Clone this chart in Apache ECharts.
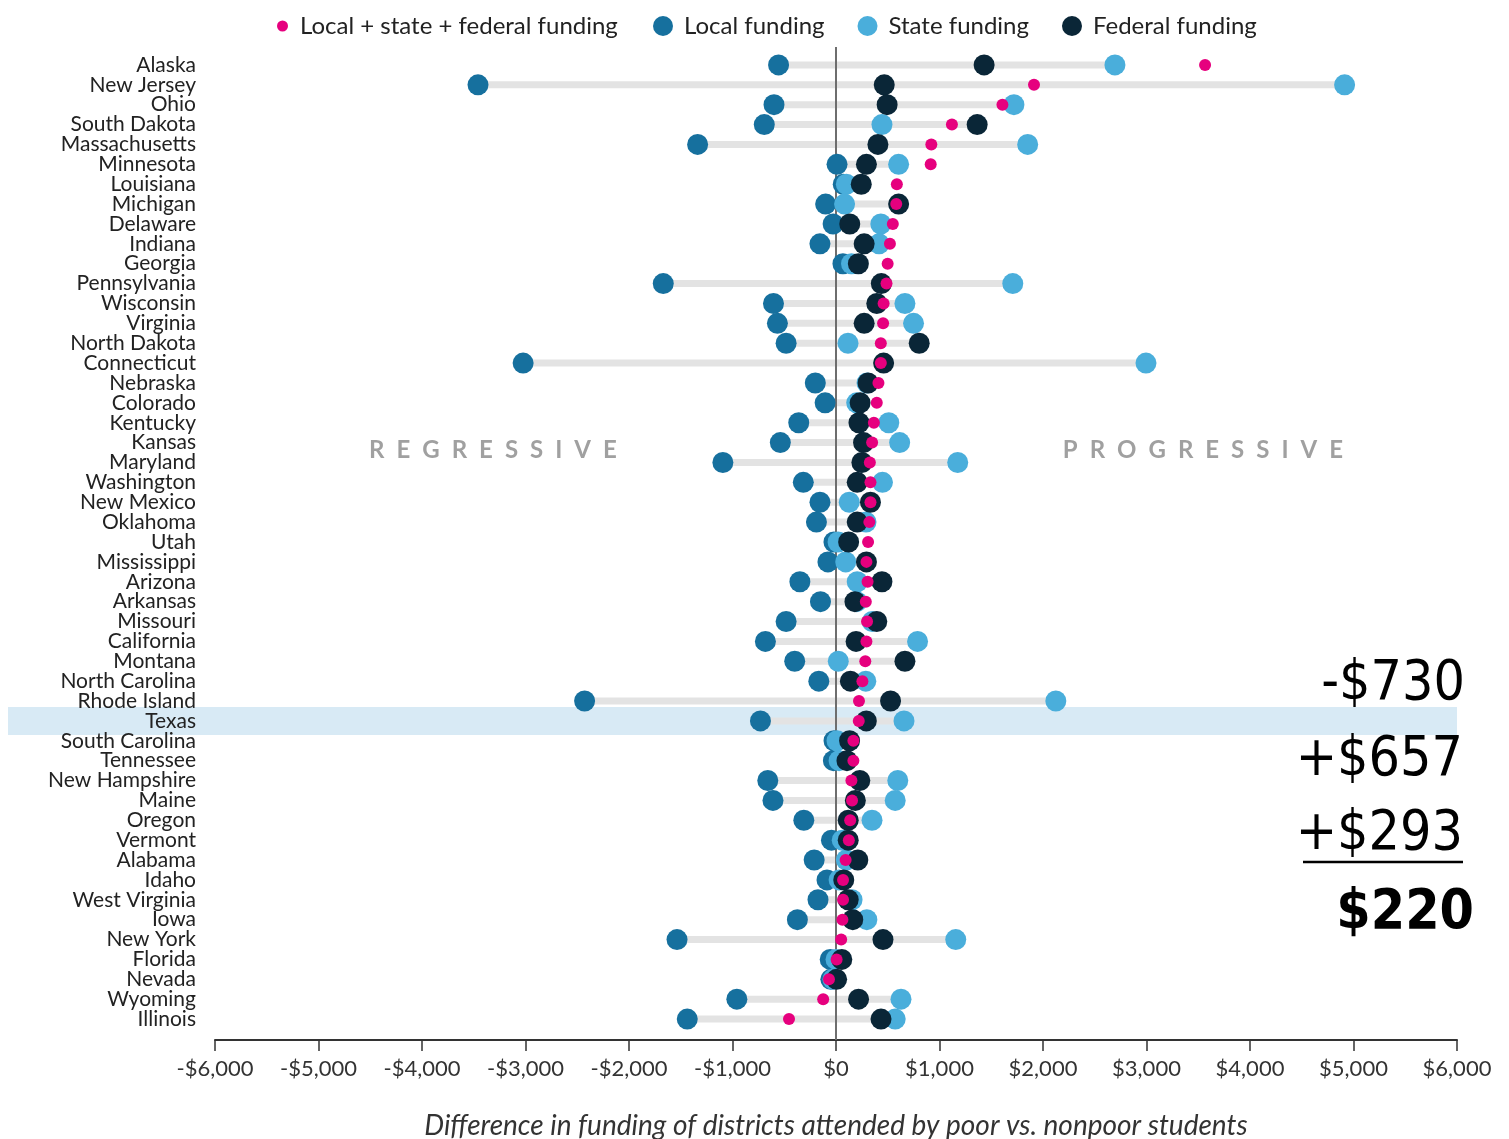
<!DOCTYPE html>
<html><head><meta charset="utf-8">
<script src="https://cdn.jsdelivr.net/npm/echarts@6/dist/echarts.min.js"></script>
<style>html,body{margin:0;padding:0;background:#fff}#c{width:1509px;height:1139px}</style>
</head><body><div id="c"></div>
<script>
const states = ["Alaska","New Jersey","Ohio","South Dakota","Massachusetts","Minnesota","Louisiana","Michigan","Delaware","Indiana","Georgia","Pennsylvania","Wisconsin","Virginia","North Dakota","Connecticut","Nebraska","Colorado","Kentucky","Kansas","Maryland","Washington","New Mexico","Oklahoma","Utah","Mississippi","Arizona","Arkansas","Missouri","California","Montana","North Carolina","Rhode Island","Texas","South Carolina","Tennessee","New Hampshire","Maine","Oregon","Vermont","Alabama","Idaho","West Virginia","Iowa","New York","Florida","Nevada","Wyoming","Illinois"];
const localFunding   = [-555,-3459,-599,-693,-1337,10,70,-100,-28,-155,67,-1669,-604,-566,-482,-3023,-200,-105,-360,-538,-1093,-316,-155,-189,-20,-78,-349,-150,-482,-682,-399,-166,-2429,-730,-19,-25,-659,-609,-311,-44,-211,-87,-174,-373,-1536,-56,-50,-958,-1437];
const stateFunding   = [2695,4914,1719,444,1852,605,100,83,433,416,150,1708,666,749,116,2995,300,200,510,615,1176,449,128,290,20,94,205,200,350,788,22,288,2124,657,10,30,597,572,348,60,100,30,155,298,1157,0,-30,628,572];
const federalFunding = [1431,466,494,1364,405,294,244,605,133,272,216,438,394,272,804,460,310,233,222,266,250,205,333,205,122,294,444,183,394,194,666,139,527,293,131,106,230,187,118,118,211,75,118,162,454,56,6,218,435];
const totalFunding   = [3566,1913,1608,1120,921,915,588,582,549,521,499,488,460,455,433,433,410,394,366,349,327,333,333,322,310,294,305,288,300,294,283,255,222,220,168,168,149,155,137,124,93,68,68,62,50,6,-68,-124,-454];
const xTicks = [-6000,-5000,-4000,-3000,-2000,-1000,0,1000,2000,3000,4000,5000,6000];
const legendNames = ["Local + state + federal funding","Local funding","State funding","Federal funding"];
const highlight = "Texas";
const sumLines = ["-$730", "+$657", "+$293", "$220"];

const C_TOTAL = '#e6007e', C_LOCAL = '#16709e', C_STATE = '#4aaedb', C_FED = '#0a2637';
const FONT = 'Lato, "Open Sans", sans-serif';
const NUMFONT = '"Liberation Sans Narrow", "DejaVu Sans Condensed", "Liberation Sans", sans-serif';

const rangeData = states.map((s, i) => {
  const v = [localFunding[i], stateFunding[i], federalFunding[i]];
  return [Math.min(...v), Math.max(...v), s];
});
const fmt = v => (v < 0 ? '-' : '') + '$' + Math.abs(v).toLocaleString('en-US');
const spaced = w => w.split('').join('\u2002');

const chart = echarts.init(document.getElementById('c'));
chart.setOption({
  animation: false,
  backgroundColor: '#fff',
  grid: { left: 215, right: 52, top: 55, bottom: 110, outerBoundsMode: 'none', containLabel: false },
  legend: [
    { data: [{ name: legendNames[0], icon: 'circle' }], left: 272, top: 9, itemWidth: 11, itemHeight: 11,
      textStyle: { fontFamily: FONT, fontSize: 24, color: '#222', padding: [0, 0, 0, 7] } },
    { data: legendNames.slice(1).map(n => ({ name: n, icon: 'circle' })), left: 648, top: 9, itemWidth: 20, itemHeight: 20, itemGap: 33,
      textStyle: { fontFamily: FONT, fontSize: 24, color: '#222', padding: [0, 0, 0, 6] } }
  ],
  xAxis: {
    type: 'value', min: xTicks[0], max: xTicks[xTicks.length - 1], interval: 1000, offset: 11,
    splitLine: { show: false },
    axisLine: { show: true, lineStyle: { color: '#333', width: 2 } },
    axisTick: { show: true, length: 11, lineStyle: { color: '#333', width: 1.5 } },
    axisLabel: { formatter: fmt, fontFamily: FONT, fontSize: 22, color: '#333', margin: 18 },
    name: 'Difference in funding of districts attended by poor vs. nonpoor students',
    nameLocation: 'middle', nameGap: 72,
    nameTextStyle: { fontFamily: FONT, fontSize: 28, fontStyle: 'italic', color: '#333' }
  },
  yAxis: {
    type: 'category', data: states, inverse: true,
    axisLine: { show: false }, axisTick: { show: false }, splitLine: { show: false },
    axisLabel: { fontFamily: FONT, fontSize: 21, color: '#222', margin: 19, interval: 0 }
  },
  series: [
    {
      type: 'custom', name: 'range', silent: true, z: 1,
      data: rangeData,
      renderItem: (params, api) => {
        const a = api.coord([api.value(0), api.value(2)]);
        const b = api.coord([api.value(1), api.value(2)]);
        return { type: 'line', shape: { x1: a[0], y1: a[1], x2: b[0], y2: b[1] },
                 style: { stroke: '#e3e3e3', lineWidth: 7 } };
      },
      encode: { x: [0, 1], y: 2 }
    },
    {
      type: 'scatter', name: legendNames[1], z: 3, symbolSize: 21,
      itemStyle: { color: C_LOCAL, opacity: 1 },
      data: states.map((s, i) => [localFunding[i], s])
    },
    {
      type: 'scatter', name: legendNames[2], z: 4, symbolSize: 21,
      itemStyle: { color: C_STATE, opacity: 1 },
      data: states.map((s, i) => [stateFunding[i], s])
    },
    {
      type: 'scatter', name: legendNames[3], z: 5, symbolSize: 21,
      itemStyle: { color: C_FED, opacity: 1 },
      data: states.map((s, i) => [federalFunding[i], s])
    },
    {
      type: 'scatter', name: legendNames[0], z: 6, symbolSize: 12,
      itemStyle: { color: C_TOTAL, opacity: 1 },
      data: states.map((s, i) => [totalFunding[i], s])
    }
  ]
});

// highlight band, zero line, annotations (positions derived from axes)
const ty = chart.convertToPixel({ yAxisIndex: 0 }, highlight);
const xr = chart.convertToPixel({ xAxisIndex: 0 }, xTicks[xTicks.length - 1]);
const x0 = chart.convertToPixel({ xAxisIndex: 0 }, 0);
const rowY = name => chart.convertToPixel({ yAxisIndex: 0 }, name);
const midY = (rowY('Kansas') + rowY('Maryland')) / 2 - 2;
const numStyle = { fontFamily: NUMFONT, fontSize: 55, fill: '#000', align: 'right', verticalAlign: 'middle' };
chart.setOption({
  graphic: [
    { type: 'rect', z: -10, silent: true, shape: { x: 8, y: ty - 14, width: xr - 8, height: 28 }, style: { fill: '#d8eaf5' } },
    { type: 'line', z: 2, silent: true, shape: { x1: x0, y1: 47, x2: x0, y2: 1040 }, style: { stroke: '#6e6e6e', lineWidth: 2 } },
    { type: 'text', z: 0, silent: true, x: chart.convertToPixel({ xAxisIndex: 0 }, -3315), y: midY,
      style: { text: spaced('REGRESSIVE'), fontFamily: FONT, fontWeight: 'bold', fontSize: 24, fill: '#a0a0a0', align: 'center', verticalAlign: 'middle' } },
    { type: 'text', z: 0, silent: true, x: chart.convertToPixel({ xAxisIndex: 0 }, 3545), y: midY,
      style: { text: spaced('PROGRESSIVE'), fontFamily: FONT, fontWeight: 'bold', fontSize: 24, fill: '#a0a0a0', align: 'center', verticalAlign: 'middle' } },
    { type: 'text', z: 10, silent: true, x: 1465, y: 685, style: Object.assign({}, numStyle, { text: sumLines[0] }) },
    { type: 'text', z: 10, silent: true, x: 1463, y: 761, style: Object.assign({}, numStyle, { text: sumLines[1] }) },
    { type: 'text', z: 10, silent: true, x: 1463, y: 835, style: Object.assign({}, numStyle, { text: sumLines[2] }) },
    { type: 'line', z: 10, silent: true, shape: { x1: 1303, y1: 862, x2: 1463, y2: 862 }, style: { stroke: '#000', lineWidth: 2.5 } },
    { type: 'text', z: 10, silent: true, x: 1474, y: 914, style: Object.assign({}, numStyle, { text: sumLines[3], fontWeight: 'bold' }) }
  ]
});
</script></body></html>
